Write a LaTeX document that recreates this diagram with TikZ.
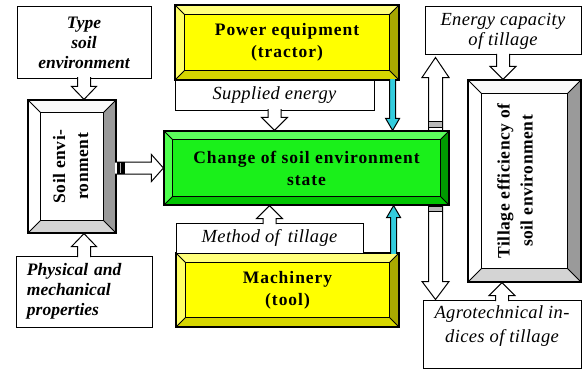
\documentclass[tikz,border=0pt]{standalone}
\usepackage{fontspec}
\setmainfont{Liberation Serif}
\usepackage{graphicx}
\usetikzlibrary{calc}
\pgfdeclarelayer{back}
\pgfdeclarelayer{background}
\pgfsetlayers{back,background,main}

\definecolor{yface}{HTML}{FFFF00}
\definecolor{ytop}{HTML}{FFFF7A}
\definecolor{yleft}{HTML}{FFFF66}
\definecolor{yright}{HTML}{A8A800}
\definecolor{ybottom}{HTML}{D6D600}
\definecolor{gface}{HTML}{1AF01A}
\definecolor{gtop}{HTML}{5CFF5C}
\definecolor{gleft}{HTML}{4DFF4D}
\definecolor{gright}{HTML}{009A00}
\definecolor{gbottom}{HTML}{00C400}
\definecolor{wright}{HTML}{9A9A9A}
\definecolor{wbottom}{HTML}{D4D4D4}
\definecolor{wtop}{HTML}{FAFAFA}
\definecolor{arrcyan}{HTML}{33CCDD}

\newcommand\fbold{\fontsize{17.5}{22}\selectfont\bfseries\addfontfeature{LetterSpace=5.5}}
\newcommand\fital{\fontsize{18.5}{20}\selectfont\itshape\addfontfeature{LetterSpace=2}}
\newcommand\fagro{\fontsize{18.5}{24}\selectfont\itshape\addfontfeature{LetterSpace=2}}
\newcommand\fbital{\fontsize{17.5}{20}\selectfont\bfseries\itshape}
\newcommand\frot{\fontsize{17.5}{23}\selectfont\bfseries\addfontfeature{LetterSpace=3}}

% bevel: #1 node, #2 width, #3 face, #4 top, #5 left, #6 right, #7 bottom
\newcommand\bevel[7]{%
\begin{pgfonlayer}{background}
\coordinate (bo1) at (#1.north west);
\coordinate (bo2) at (#1.north east);
\coordinate (bo3) at (#1.south east);
\coordinate (bo4) at (#1.south west);
\coordinate (bi1) at ($(bo1)+(#2,-#2)$);
\coordinate (bi2) at ($(bo2)+(-#2,-#2)$);
\coordinate (bi3) at ($(bo3)+(-#2,#2)$);
\coordinate (bi4) at ($(bo4)+(#2,#2)$);
\fill[#4] (bo1)--(bo2)--(bi2)--(bi1)--cycle;
\fill[#5] (bo1)--(bi1)--(bi4)--(bo4)--cycle;
\fill[#6] (bo2)--(bo3)--(bi3)--(bi2)--cycle;
\fill[#7] (bo4)--(bi4)--(bi3)--(bo3)--cycle;
\filldraw[fill=#3, line width=1.2pt] (bi1) rectangle (bi3);
\draw[line width=1pt] (bo1)--(bi1) (bo2)--(bi2) (bo3)--(bi3) (bo4)--(bi4);
\end{pgfonlayer}}

% block arrow: [#1 fill] #2 from, #3 to, #4 half shaft, #5 half head, #6 head length
\newcommand\harrow[6][white]{%
\coordinate (ha-s) at ($(#2)!-1.5pt!(#3)$);
\coordinate (ha-h) at ($(#3)!#6!(#2)$);
\fill[#1] ($(ha-s)!#4!90:(#3)$) -- ($(ha-h)!#4!90:(#3)$) -- ($(ha-h)!#5!90:(#3)$) -- (#3) -- ($(ha-h)!#5!-90:(#3)$) -- ($(ha-h)!#4!-90:(#3)$) -- ($(ha-s)!#4!-90:(#3)$) -- cycle;
\draw[line width=1pt, line join=miter] ($(ha-s)!#4!90:(#3)$) -- ($(ha-h)!#4!90:(#3)$) -- ($(ha-h)!#5!90:(#3)$) -- (#3) -- ($(ha-h)!#5!-90:(#3)$) -- ($(ha-h)!#4!-90:(#3)$) -- ($(ha-s)!#4!-90:(#3)$);}

\tikzset{
  box/.style={draw, line width=1pt, inner sep=0pt, align=center, fill=white},
  bev/.style={draw, line width=1.2pt, inner sep=0pt, align=center},
}

\begin{document}
\begin{tikzpicture}[x=1pt, y=-1pt]
\useasboundingbox (0,0) rectangle (583,369);
\begin{pgfonlayer}{back}
\fill[white] (0,0) rectangle (583,369);
\end{pgfonlayer}

% plain boxes
\node[box, minimum width=134pt, minimum height=71pt, font=\fbital] (type) at (84,42.5) {Type\\soil\\environment};
\node[box, minimum width=136pt, minimum height=71pt, text width=114pt, inner xsep=11pt, align=left, font=\fbital] (phys) at (84,291.5) {Physical and\\mechanical\\properties};
\node[box, minimum width=156pt, minimum height=48pt, font=\fital] (energy) at (503,31) {Energy capacity\\of tillage};
\node[box, minimum width=158pt, minimum height=68pt, label={[font=\fagro, align=center, yshift=8pt]center:Agrotechnical in-\\dices of tillage}] (agro) at (502,334) {};

% bevel boxes
\node[bev, minimum width=88pt, minimum height=133pt, font=\frot] (soil) at (72,166.5)
  {\rotatebox{90}{\begin{tabular}{@{}c@{}}Soil envi-\\ronment\end{tabular}}};
\bevel{soil}{13pt}{white}{wtop}{white}{wright}{wbottom}

\node[bev, minimum width=224pt, minimum height=75pt, font=\fbold] (power) at (287,42.5) {Power equipment\\(tractor)};
\bevel{power}{10pt}{yface}{ytop}{yleft}{yright}{ybottom}

\node[box, minimum width=199pt, minimum height=30pt, font=\fital] (supp) at (274.5,95) {Supplied energy};

\node[bev, minimum width=285pt, minimum height=74pt, font=\fbold] (green) at (306.5,168) {Change of soil environment\\state};
\bevel{green}{9pt}{gface}{gtop}{gleft}{gright}{gbottom}

\node[bev, minimum width=223pt, minimum height=74pt, font=\fbold] (machine) at (287.5,290) {Machinery\\(tool)};
\bevel{machine}{10pt}{yface}{ytop}{yleft}{yright}{ybottom}

\node[box, minimum width=187pt, minimum height=30pt, font=\fital] (method) at (269.5,238) {Method of\, tillage};

\node[bev, minimum width=113pt, minimum height=202pt, font=\frot] (till) at (524.5,181)
  {\hspace*{-16pt}\rotatebox{90}{\begin{tabular}{@{}c@{}}Tillage efficiency of\\soil environment\end{tabular}}};
\bevel{till}{14pt}{white}{wtop}{white}{wright}{wbottom}

% connector end points
\coordinate (c1) at (type.south |- soil.north);
\coordinate (c2) at (soil.east |- green.west);
\coordinate (c3) at (supp.south |- green.north);
\coordinate (c4) at (method.north |- green.south);
\coordinate (c5) at (energy.south |- till.north);
\coordinate (c6) at (agro.north |- till.south);
\coordinate (k1) at ([xshift=-7pt]power.south east);
\coordinate (k2) at (k1 |- green.north);
\coordinate (k3) at ([xshift=-6pt]machine.north east);
\coordinate (k4) at (k3 |- green.south);
\coordinate (dt) at ([xshift=11pt,yshift=-2pt]energy.south west);
\coordinate (db) at ([xshift=13pt]agro.north west);

% hollow arrows
\harrow{type.south}{c1}{6.5pt}{12.5pt}{13pt}
\harrow{phys.north}{soil.south -| phys.north}{6.5pt}{12.5pt}{13pt}
\harrow{c2}{green.west}{6pt}{13.5pt}{12pt}
\fill[black] ($(c2)+(0pt,6pt)$) rectangle ($(c2)+(8pt,-6pt)$);
\draw[white!70!black, line width=1.2pt] ($(c2)+(4pt,5pt)$) -- ($(c2)+(4pt,-5pt)$);
\harrow{supp.south}{c3}{6.5pt}{13pt}{13pt}
\harrow{method.north}{c4}{6.5pt}{13pt}{13pt}
\harrow{energy.south}{c5}{6.5pt}{13pt}{13pt}
\harrow{agro.north}{c6}{6.5pt}{13pt}{13pt}

% cyan arrows
\harrow[arrcyan]{k1}{k2}{3pt}{7pt}{12pt}
\harrow[arrcyan]{k3}{k4}{3pt}{7pt}{12pt}

% double arrow behind the green box
\begin{pgfonlayer}{back}
\coordinate (ht) at ($(dt)!20pt!(db)$);
\coordinate (hb) at ($(db)!18pt!(dt)$);
\draw[fill=white, line width=1pt, line join=miter] (dt) -- ($(ht)!13.5pt!90:(db)$) -- ($(ht)!7pt!90:(db)$) -- ($(hb)!7pt!-90:(dt)$) -- ($(hb)!13.5pt!-90:(dt)$) -- (db) -- ($(hb)!13.5pt!90:(dt)$) -- ($(hb)!7pt!90:(dt)$) -- ($(ht)!7pt!-90:(db)$) -- ($(ht)!13.5pt!-90:(db)$) -- cycle;
\filldraw[fill=gray!55, line width=0.8pt] ($(dt |- green.north)+(-7pt,3pt)$) rectangle ($(dt |- green.north)+(7pt,9pt)$);
\filldraw[fill=gray!55, line width=0.8pt] ($(dt |- green.south)+(-7pt,-1pt)$) rectangle ($(dt |- green.south)+(7pt,-6pt)$);
\end{pgfonlayer}
\end{tikzpicture}
\end{document}
